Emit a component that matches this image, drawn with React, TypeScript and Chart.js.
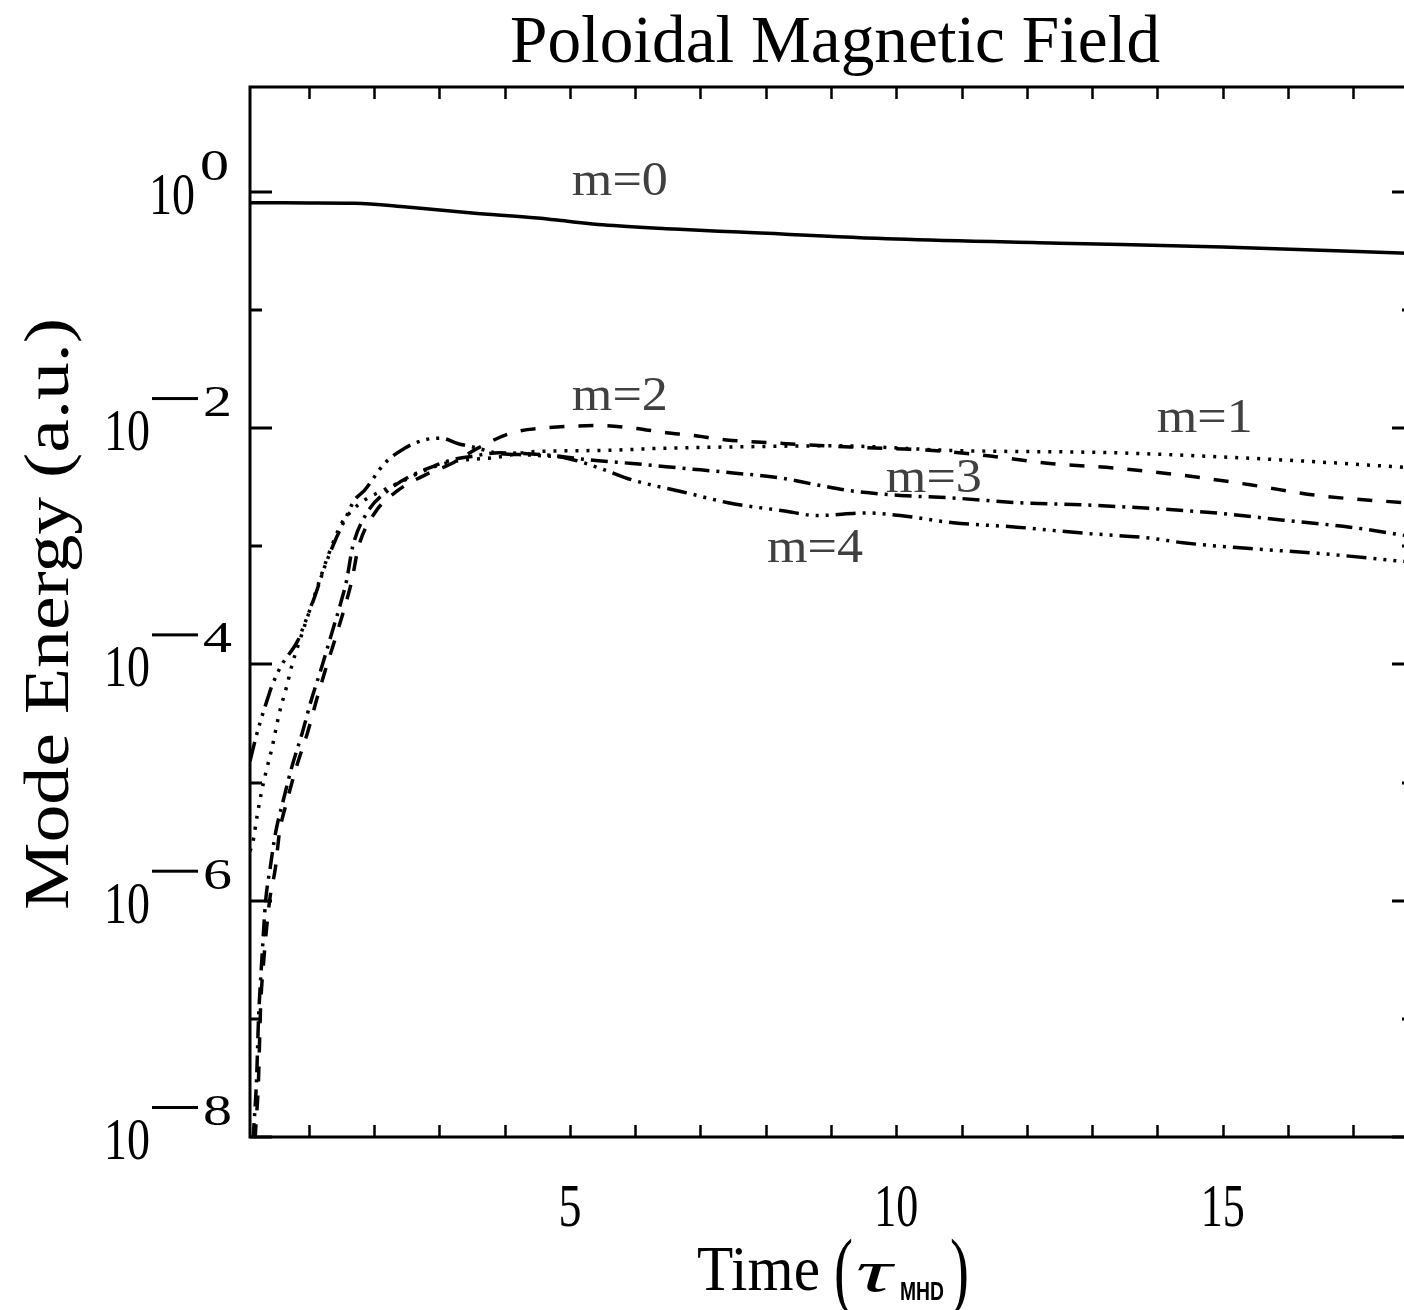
import React, { useEffect, useRef } from "react";
import { Chart, registerables } from "chart.js";

Chart.register(...registerables);

// ---------------- data ----------------
const time_m0 = [0.1, 1.0, 1.7, 2.5, 3.5, 4.5, 5.0, 5.5, 6.6, 7.6, 10.0, 12.5, 15.0, 17.93];
const energy_m0 = [0.807, 0.805, 0.8, 0.742, 0.66, 0.6, 0.56, 0.525, 0.483, 0.456, 0.398, 0.367, 0.34, 0.3];

const time_m1 = [0.1, 0.14, 0.21, 0.28, 0.35, 0.44, 0.55, 0.66, 0.75, 0.86, 0.98, 1.13, 1.29, 1.5, 1.66, 1.85, 2.16, 2.47, 2.77, 3.08, 3.39, 3.85, 4.43, 5.46, 6.48, 7.5, 9.03, 10.87, 13.38, 15.93, 17.93];
const energy_m1 = [2.63e-6, 3.05e-6, 5.25e-6, 8.51e-6, 1.26e-5, 2.0e-5, 3.89e-5, 6.46e-5, 1.02e-4, 1.58e-4, 2.51e-4, 4.47e-4, 8.13e-4, 1.55e-3, 2.0e-3, 2.45e-3, 3.02e-3, 3.63e-3, 4.37e-3, 5.01e-3, 5.37e-3, 5.62e-3, 6.31e-3, 6.46e-3, 6.76e-3, 6.92e-3, 7.08e-3, 6.46e-3, 6.17e-3, 5.37e-3, 4.6e-3];

const time_m2 = [0.1, 0.18, 0.23, 0.26, 0.31, 0.4, 0.49, 0.55, 0.67, 0.81, 0.98, 1.12, 1.27, 1.43, 1.58, 1.66, 1.76, 2.01, 2.36, 2.77, 3.19, 3.59, 4.11, 4.61, 5.46, 5.96, 6.48, 6.84, 7.4, 8.26, 9.29, 10.56, 11.33, 12.35, 13.38, 14.39, 15.42, 16.45, 17.93];
const energy_m2 = [1.0e-9, 1.0e-8, 3.02e-8, 1.17e-7, 3.09e-7, 1.0e-6, 1.91e-6, 3.72e-6, 7.08e-6, 1.35e-5, 2.63e-5, 5.01e-5, 9.55e-5, 1.82e-4, 3.47e-4, 5.13e-4, 9.77e-4, 1.91e-3, 2.95e-3, 3.98e-3, 5.01e-3, 6.76e-3, 9.12e-3, 1.0e-2, 1.05e-2, 1.0e-2, 9.12e-3, 8.71e-3, 7.94e-3, 7.41e-3, 6.92e-3, 6.46e-3, 5.89e-3, 5.01e-3, 4.57e-3, 3.98e-3, 3.31e-3, 2.69e-3, 2.3e-3];

const time_m3 = [0.1, 0.15, 0.2, 0.23, 0.28, 0.34, 0.41, 0.49, 0.61, 0.74, 0.9, 1.04, 1.2, 1.35, 1.5, 1.58, 1.67, 1.89, 2.21, 2.58, 2.88, 3.19, 3.49, 3.92, 4.69, 5.3, 5.96, 6.73, 7.5, 8.26, 8.78, 9.29, 10.06, 10.82, 11.85, 12.86, 13.89, 14.91, 15.93, 16.95, 17.93];
const energy_m3 = [2.5e-9, 1.0e-8, 3.02e-8, 9.77e-8, 3.09e-7, 1.0e-6, 1.91e-6, 3.72e-6, 7.08e-6, 1.35e-5, 2.63e-5, 5.01e-5, 9.55e-5, 1.82e-4, 3.47e-4, 5.13e-4, 9.77e-4, 1.91e-3, 2.95e-3, 3.98e-3, 4.68e-3, 5.37e-3, 5.75e-3, 6.17e-3, 5.89e-3, 5.37e-3, 5.01e-3, 4.57e-3, 4.17e-3, 3.76e-3, 3.31e-3, 2.95e-3, 2.69e-3, 2.57e-3, 2.34e-3, 2.24e-3, 2.09e-3, 1.91e-3, 1.66e-3, 1.45e-3, 1.2e-3];

const time_m4 = [0.1, 0.18, 0.25, 0.37, 0.43, 0.58, 0.83, 0.94, 1.09, 1.24, 1.39, 1.55, 1.7, 1.85, 2.16, 2.47, 2.77, 3.03, 3.28, 3.59, 3.85, 4.43, 4.95, 5.46, 5.96, 6.73, 7.5, 8.26, 8.78, 9.55, 10.06, 10.87, 11.85, 12.86, 13.89, 14.39, 15.42, 16.45, 17.93];
const energy_m4 = [1.51e-5, 2.29e-5, 3.16e-5, 5.13e-5, 6.46e-5, 9.77e-5, 1.58e-4, 2.24e-4, 3.72e-4, 6.61e-4, 1.07e-3, 1.66e-3, 2.45e-3, 2.95e-3, 5.01e-3, 6.76e-3, 7.94e-3, 8.22e-3, 7.41e-3, 6.76e-3, 6.17e-3, 5.89e-3, 5.56e-3, 4.57e-3, 3.63e-3, 2.88e-3, 2.29e-3, 2.0e-3, 1.82e-3, 1.91e-3, 1.82e-3, 1.58e-3, 1.45e-3, 1.29e-3, 1.17e-3, 1.07e-3, 9.55e-4, 8.71e-4, 7.3e-4];

const seriesLabels = ["m=0", "m=1", "m=2", "m=3", "m=4"];
// label anchors (left edge, baseline) in data coordinates
const labelTimes = [5.03, 13.99, 5.03, 9.84, 8.02];
const labelEnergies = [0.94, 0.00923, 0.0142, 0.00287, 7.33e-4];

const xMinorTicks = [1, 2, 3, 4, 5, 6, 7, 8, 9, 10, 11, 12, 13, 14, 15, 16, 17];
const xLabelTicks = [5, 10, 15];
const yMajorExponents = [0, -2, -4, -6, -8];
const yMinorExponents = [-1, -3, -5, -7];

const X_MIN = 0.1;
const X_MAX = 17.93;
const Y_MIN = 1e-8;
const Y_MAX = 7.7;

const TITLE = "Poloidal Magnetic Field";
const Y_TITLE = "Mode Energy (a.u.)";

// ---------------- layout ----------------
const CW = 1418;
const CH = 1310;
const PLOT_L = 250;
const PLOT_T = 87;
const PLOT_R = 1414;
const PLOT_B = 1137;

const SERIF = "'Liberation Serif', 'DejaVu Serif', serif";

// draw text squeezed/stretched horizontally to a target width
function textW(
  ctx: CanvasRenderingContext2D,
  text: string,
  x: number,
  y: number,
  font: string,
  targetW: number,
  align: "left" | "center" | "right"
) {
  ctx.save();
  ctx.font = font;
  ctx.textBaseline = "alphabetic";
  ctx.textAlign = "left";
  const natural = ctx.measureText(text).width;
  const sx = targetW / natural;
  let x0 = x;
  if (align === "center") x0 = x - targetW / 2;
  if (align === "right") x0 = x - targetW;
  ctx.translate(x0, y);
  ctx.scale(sx, 1);
  ctx.fillText(text, 0, 0);
  ctx.restore();
  return targetW;
}

const framePlugin = {
  id: "idlFrame",
  afterDatasetsDraw(chart: any) {
    const ctx: CanvasRenderingContext2D = chart.ctx;
    const { left, right, top, bottom } = chart.chartArea;
    const xs = chart.scales.x;
    const ys = chart.scales.y;
    ctx.save();
    ctx.strokeStyle = "#000";
    ctx.lineWidth = 3;
    ctx.lineCap = "butt";
    ctx.beginPath();
    ctx.moveTo(left, top);
    ctx.lineTo(right, top);
    ctx.lineTo(right, bottom);
    ctx.lineTo(left, bottom);
    ctx.closePath();
    ctx.stroke();

    ctx.lineWidth = 2.5;
    ctx.beginPath();
    for (const t of xMinorTicks) {
      const px = Math.round(xs.getPixelForValue(t)) + 0.5;
      const len = 12;
      ctx.moveTo(px, bottom);
      ctx.lineTo(px, bottom - len);
      ctx.moveTo(px, top);
      ctx.lineTo(px, top + len);
    }
    ctx.stroke();

    ctx.lineWidth = 3;
    ctx.beginPath();
    for (const e of yMajorExponents) {
      const py = Math.round(ys.getPixelForValue(Math.pow(10, e)));
      ctx.moveTo(left, py);
      ctx.lineTo(left + 22, py);
      ctx.moveTo(right, py);
      ctx.lineTo(right - 22, py);
    }
    for (const e of yMinorExponents) {
      const py = Math.round(ys.getPixelForValue(Math.pow(10, e)));
      ctx.moveTo(left, py);
      ctx.lineTo(left + 12, py);
      ctx.moveTo(right, py);
      ctx.lineTo(right - 12, py);
    }
    ctx.stroke();
    ctx.restore();
  },
  afterDraw(chart: any) {
    const ctx: CanvasRenderingContext2D = chart.ctx;
    const xs = chart.scales.x;
    const ys = chart.scales.y;
    const { bottom } = chart.chartArea;
    ctx.save();
    ctx.fillStyle = "#000";

    // title
    textW(ctx, TITLE, 835, 62, `68px ${SERIF}`, 650, "center");

    // x tick labels
    for (const v of xLabelTicks) {
      const px = xs.getPixelForValue(v);
      const s = String(v);
      textW(ctx, s, px, bottom + 89, `62px ${SERIF}`, s.length === 1 ? 23 : 44, "center");
    }

    // y tick labels 10^e
    const big = `60px ${SERIF}`;
    const sup = `44px ${SERIF}`;
    for (const e of yMajorExponents) {
      const py = ys.getPixelForValue(Math.pow(10, e));
      const rightEdge = e < 0 ? 232 : 229;
      const expDigit = String(Math.abs(e));
      const wd = 29;
      const xDigit = rightEdge - wd;
      textW(ctx, expDigit, xDigit, py - 12, sup, wd, "left");
      let end10 = xDigit - 5;
      if (e < 0) {
        const minusW = 46;
        const xMinus = xDigit - 5 - minusW;
        ctx.fillRect(xMinus, py - 31, minusW, 3);
        end10 = xMinus - 2;
      }
      textW(ctx, "10", end10, py + 22, big, 46, "right");
    }

    // x axis title: Time (tau_MHD)
    const by = 1290;
    textW(ctx, "Time", 697, by, `64px ${SERIF}`, 123, "left");
    textW(ctx, "(", 834, by + 9, `86px ${SERIF}`, 19, "left");
    textW(ctx, "\u03C4", 856, by + 1, `italic 60px ${SERIF}`, 36, "left");
    textW(ctx, "MHD", 900, by + 10, `bold 25px 'Liberation Sans', 'DejaVu Sans', sans-serif`, 44, "left");
    textW(ctx, ")", 950, by + 9, `86px ${SERIF}`, 19, "left");

    // y axis title rotated
    ctx.save();
    ctx.translate(68, 614);
    ctx.rotate(-Math.PI / 2);
    textW(ctx, Y_TITLE, 0, 0, `64px ${SERIF}`, 592, "center");
    ctx.restore();

    // series labels
    ctx.fillStyle = "#404040";
    for (let i = 0; i < seriesLabels.length; i++) {
      const px = xs.getPixelForValue(labelTimes[i]);
      const py = ys.getPixelForValue(labelEnergies[i]);
      textW(ctx, seriesLabels[i], px, py, `48px ${SERIF}`, 96, "left");
    }
    ctx.restore();
  },
};

function makeSet(xsArr: number[], ysArr: number[], dash: number[], width: number) {
  return {
    data: xsArr.map((t, i) => ({ x: t, y: ysArr[i] })),
    borderColor: "#000",
    borderWidth: width,
    borderDash: dash,
    pointRadius: 0,
    fill: false,
    cubicInterpolationMode: "monotone" as const,
    borderCapStyle: "butt" as const,
    borderJoinStyle: "round" as const,
  };
}

export default function App() {
  const ref = useRef<HTMLCanvasElement | null>(null);
  useEffect(() => {
    if (!ref.current) return;
    const chart = new Chart(ref.current, {
      type: "line",
      data: {
        datasets: [
          makeSet(time_m0, energy_m0, [], 3.5),
          makeSet(time_m1, energy_m1, [3, 8], 3.5),
          makeSet(time_m2, energy_m2, [15, 14], 3.5),
          makeSet(time_m3, energy_m3, [17, 7, 3, 7], 3.5),
          makeSet(time_m4, energy_m4, [20, 7, 3, 7, 3, 7, 3, 7], 3.5),
        ] as any,
      },
      options: {
        animation: false,
        responsive: false,
        maintainAspectRatio: false,
        devicePixelRatio: 1,
        layout: {
          padding: { left: PLOT_L, top: PLOT_T, right: CW - PLOT_R, bottom: CH - PLOT_B },
        },
        scales: {
          x: { type: "linear", min: X_MIN, max: X_MAX, display: false },
          y: { type: "logarithmic", min: Y_MIN, max: Y_MAX, display: false },
        },
        plugins: {
          legend: { display: false },
          tooltip: { enabled: false },
          title: { display: false },
        },
      },
      plugins: [framePlugin],
    });
    return () => chart.destroy();
  }, []);
  return (
    <div style={{ position: "absolute", left: 0, top: 0, width: 1404, height: 1310, overflow: "hidden", background: "#fff" }}>
      <canvas ref={ref} width={CW} height={CH} style={{ width: CW, height: CH, display: "block" }} />
    </div>
  );
}
